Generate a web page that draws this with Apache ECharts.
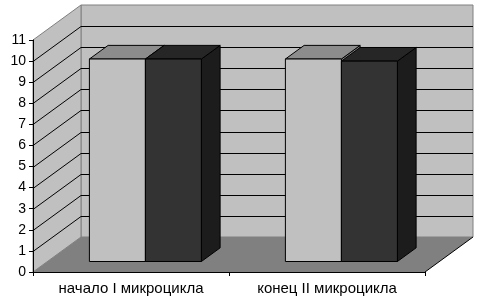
<!DOCTYPE html>
<html>
<head>
<meta charset="utf-8">
<script src="https://cdn.jsdelivr.net/npm/echarts@6/dist/echarts.min.js"></script>
<style>html,body{margin:0;padding:0;background:#fff}#c{width:500px;height:300px}</style>
</head>
<body>
<div id="c"></div>
<script>
var categories = ['начало I микроцикла', 'конец II микроцикла'];
var seriesLight = [9.6, 9.6];
var seriesDark = [9.6, 9.5];
var yTicks = [0, 1, 2, 3, 4, 5, 6, 7, 8, 9, 10, 11];

var DX = 48, DY = -35;          // 3D depth offset of the plot box
var F1 = 0.3, F2 = 0.69;        // bar front/back depth fractions
var FONT = 'Liberation Sans, Arial, sans-serif';

var chart = echarts.init(document.getElementById('c'), null, {renderer: 'canvas'});

function wallsRender(params, api) {
  var cs = params.coordSys;
  var L = cs.x, T = cs.y, R = cs.x + cs.width, B = cs.y + cs.height;
  var ch = [];
  ch.push({type: 'rect', shape: {x: L + DX, y: T + DY, width: R - L, height: B - T},
    style: {fill: '#c0c0c0', stroke: '#808080', lineWidth: 1}});
  ch.push({type: 'polygon', shape: {points: [[L, B], [L, T], [L + DX, T + DY], [L + DX, B + DY]]},
    style: {fill: '#c0c0c0', stroke: '#808080', lineWidth: 1}});
  for (var k = 1; k < yTicks.length - 1; k++) {
    var y = Math.round(api.coord([0, yTicks[k]])[1]) + 0.5;
    ch.push({type: 'line', shape: {x1: L + DX, y1: y + DY, x2: R + DX, y2: y + DY},
      style: {stroke: '#000', lineWidth: 1}});
    ch.push({type: 'line', shape: {x1: L, y1: y, x2: L + DX, y2: y + DY},
      style: {stroke: '#000', lineWidth: 1}});
  }
  ch.push({type: 'polygon', shape: {points: [[L, B], [R, B], [R + DX, B + DY], [L + DX, B + DY]]},
    style: {fill: '#808080', stroke: null}});
  ch.push({type: 'line', shape: {x1: R, y1: B, x2: R + DX, y2: B + DY},
    style: {stroke: '#000', lineWidth: 1}});
  return {type: 'group', children: ch};
}

function barRender(which, cols) {
  return function (params, api) {
    var i = api.value(0), v = api.value(1);
    var band = api.size([1, 0])[0];
    var bw = band / 3.5;
    var c = api.coord([i, 0]);
    var left = which === 0 ? c[0] - bw : c[0];
    var right = left + bw;
    var bottom = c[1];
    var top = api.coord([i, v])[1];
    var ax = DX * F1, ay = DY * F1, bx = DX * F2, by = DY * F2;
    var st = {stroke: '#000', lineWidth: 1};
    return {type: 'group', children: [
      {type: 'polygon', shape: {points: [[right + ax, top + ay], [right + bx, top + by], [right + bx, bottom + by], [right + ax, bottom + ay]]},
        style: Object.assign({fill: cols[2]}, st)},
      {type: 'polygon', shape: {points: [[left + ax, top + ay], [right + ax, top + ay], [right + bx, top + by], [left + bx, top + by]]},
        style: Object.assign({fill: cols[1]}, st)},
      {type: 'rect', shape: {x: left + ax, y: top + ay, width: bw, height: bottom - top},
        style: Object.assign({fill: cols[0]}, st)}
    ]};
  };
}

chart.setOption({
  animation: false,
  backgroundColor: '#fff',
  grid: {left: 33, right: 75, top: 40, bottom: 28},
  xAxis: {
    type: 'category', data: categories, boundaryGap: true, z: 3,
    axisLine: {lineStyle: {color: '#000', width: 1}},
    axisTick: {show: true, length: 4, lineStyle: {color: '#000'}},
    axisLabel: {color: '#000', fontFamily: FONT, fontSize: 15, margin: 9}
  },
  yAxis: {
    type: 'value', min: 0, max: 11, interval: 1, z: 3,
    axisLine: {show: true, lineStyle: {color: '#000', width: 1}},
    axisTick: {show: true, length: 4, lineStyle: {color: '#000'}},
    axisLabel: {color: '#000', fontFamily: FONT, fontSize: 14, margin: 7},
    splitLine: {show: false}
  },
  series: [
    {type: 'custom', z: 1, silent: true, data: [[0, 0]], renderItem: wallsRender},
    {type: 'custom', z: 5, name: 'A', data: seriesLight.map(function (v, i) { return [i, v]; }),
      encode: {x: 0, y: 1}, renderItem: barRender(0, ['#c0c0c0', '#8c8c8c', '#808080'])},
    {type: 'custom', z: 6, name: 'B', data: seriesDark.map(function (v, i) { return [i, v]; }),
      encode: {x: 0, y: 1}, renderItem: barRender(1, ['#333333', '#262626', '#1c1c1c'])}
  ]
});
</script>
</body>
</html>
